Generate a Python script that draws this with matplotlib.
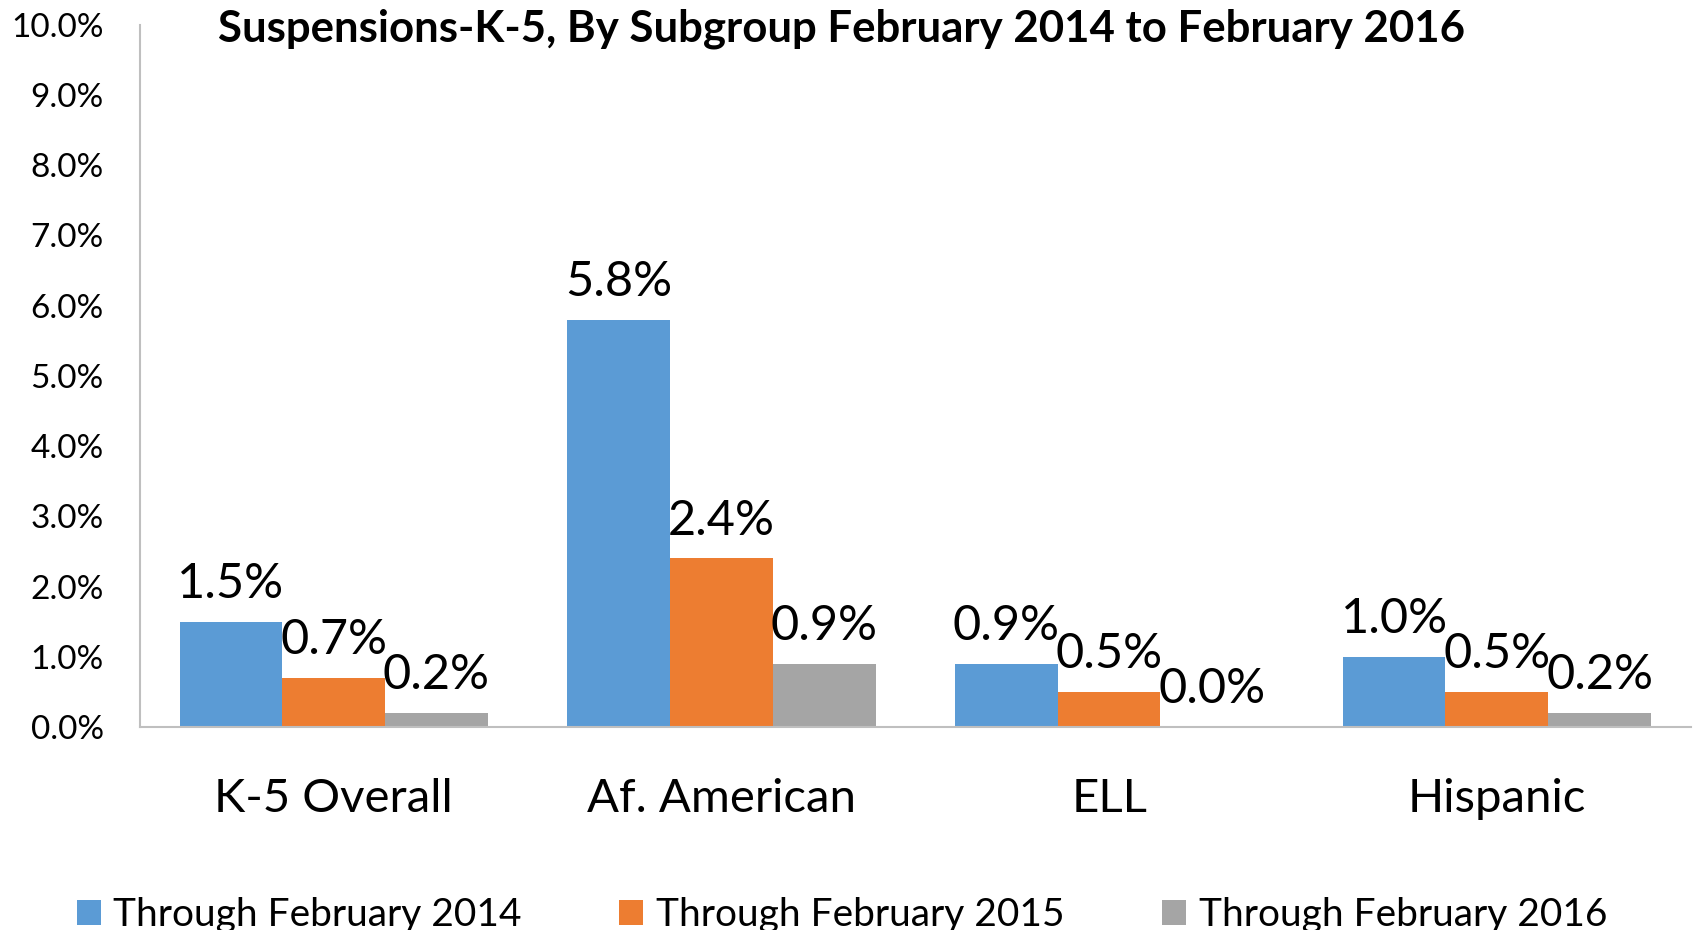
import matplotlib
matplotlib.use("Agg")
import matplotlib.pyplot as plt
import numpy as np

categories = ["K-5 Overall", "Af. American", "ELL", "Hispanic"]
series_names = ["Through February 2014", "Through February 2015", "Through February 2016"]
feb_2014 = [1.5, 5.8, 0.9, 1.0]
feb_2015 = [0.7, 2.4, 0.5, 0.5]
feb_2016 = [0.2, 0.9, 0.0, 0.2]
colors = ["#5B9BD5", "#ED7D31", "#A5A5A5"]
y_ticks = [0, 1, 2, 3, 4, 5, 6, 7, 8, 9, 10]

plt.rcParams['font.family'] = ['Lato', 'DejaVu Sans']

fig = plt.figure(figsize=(16.94, 9.30), dpi=100)
ax = fig.add_axes([0.0826, 0.2183, 0.9154, 0.755])

x = np.arange(len(categories))
width = 0.265
for i, (vals, name, c) in enumerate(zip([feb_2014, feb_2015, feb_2016], series_names, colors)):
    pos = x + (i - 1) * width
    ax.bar(pos, vals, width, color=c, label=name)
    for xp, v in zip(pos, vals):
        ax.annotate(f"{v:.1f}%", (xp, v), xytext=(0, 27), textcoords='offset points',
                    ha='center', va='center', fontsize=35)

ax.set_xlim(-0.5, len(categories) - 0.5)
ax.set_ylim(0, 10)
ax.set_yticks(y_ticks)
ax.set_yticklabels([f"{t:.1f}%" for t in y_ticks], fontsize=24)
ax.set_xticks(x)
ax.set_xticklabels(categories, fontsize=34)
ax.tick_params(axis='both', length=0)
ax.tick_params(axis='x', pad=37)
ax.tick_params(axis='y', pad=26)
for s in ['top', 'right']:
    ax.spines[s].set_visible(False)
for s in ['left', 'bottom']:
    ax.spines[s].set_color('#BFBFBF')
    ax.spines[s].set_linewidth(1.5)

fig.text(0.497, 0.969, "Suspensions-K-5, By Subgroup February 2014 to February 2016",
         ha='center', va='center', fontsize=31.5, fontweight='bold')

fig.legend(loc='center', bbox_to_anchor=(0.497, 0.016), ncol=3, frameon=False,
           fontsize=28, handlelength=0.62, handleheight=0.62, handletextpad=0.33,
           columnspacing=2.5)

fig.savefig("out.png", dpi=100)
